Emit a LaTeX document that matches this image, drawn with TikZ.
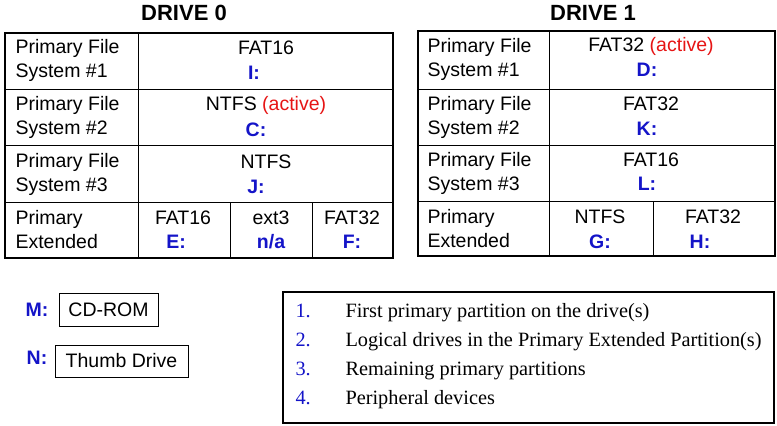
\documentclass[tikz,border=0pt]{standalone}
\usepackage{fontspec}
\setmainfont{Liberation Sans}
\newfontfamily\tms{Liberation Serif}
\definecolor{lblue}{RGB}{20,20,200}
\definecolor{lred}{RGB}{230,20,20}
\begin{document}
\begin{tikzpicture}[x=1pt,y=-1pt,
  thin line/.style={line width=0.8pt},
  thick box/.style={line width=2.2pt},
  cell/.style={font=\fontsize{19.5}{24}\selectfont, align=left, anchor=west},
  ctr/.style={font=\fontsize{19.5}{24}\selectfont, align=center},
  drv/.style={font=\fontsize{19.5}{24}\selectfont\bfseries\color{lblue}},
  ttl/.style={font=\fontsize{22}{26}\selectfont\bfseries},
  leg/.style={font=\tms\fontsize{20.3}{22}\selectfont, anchor=base west}]
\useasboundingbox (0,0) rectangle (777,426);
% Drive 0
\node[ttl] (t0) at (184,13) {DRIVE 0};
\draw[thin line] (138,33) -- (138,258) (5,89) -- (393,89) (5,145) -- (393,145) (5,202) -- (393,202)
  (230,202) -- (230,258) (312,202) -- (312,258);
\draw[thick box] (5,33) rectangle (393,258);
\node[cell] (a1) at (12,60) {Primary File\\System \#1};
\node[cell] (a2) at (12,117) {Primary File\\System \#2};
\node[cell] (a3) at (12,174) {Primary File\\System \#3};
\node[cell] (a4) at (12,230) {Primary\\Extended};
\node[ctr] (b1) at (266,48) {FAT16};
\node[drv] (b1d) at (254,73) {I:};
\node[ctr] (b2) at (266,105) {NTFS {\color{lred}(active)}};
\node[drv] (b2d) at (256,130) {C:};
\node[ctr] (b3) at (266,162) {NTFS};
\node[drv] (b3d) at (256,187) {J:};
\node[ctr] (c1) at (183,218) {FAT16};
\node[drv] (c1d) at (176,242) {E:};
\node[ctr] (c2) at (271,218) {ext3};
\node[drv] (c2d) at (271,242) {n/a};
\node[ctr] (c3) at (352,218) {FAT32};
\node[drv] (c3d) at (352,242) {F:};
% Drive 1
\node[ttl] (t1) at (593,13) {DRIVE 1};
\draw[thin line] (549,31) -- (549,256) (418,89) -- (775,89) (418,145) -- (775,145) (418,201) -- (775,201)
  (653,201) -- (653,256);
\draw[thick box] (418,31) rectangle (775,256);
\node[cell] (d1) at (424,59) {Primary File\\System \#1};
\node[cell] (d2) at (424,117) {Primary File\\System \#2};
\node[cell] (d3) at (424,173) {Primary File\\System \#3};
\node[cell] (d4) at (424,229) {Primary\\Extended};
\node[ctr] (e1) at (651,46) {FAT32 {\color{lred}(active)}};
\node[drv] (e1d) at (647,70) {D:};
\node[ctr] (e2) at (651,104) {FAT32};
\node[drv] (e2d) at (647,129) {K:};
\node[ctr] (e3) at (651,160) {FAT16};
\node[drv] (e3d) at (647,184) {L:};
\node[ctr] (f1) at (600,217) {NTFS};
\node[drv] (f1d) at (600,242) {G:};
\node[ctr] (f2) at (713,217) {FAT32};
\node[drv] (f2d) at (700,242) {H:};
% peripherals
\node[drv] (m) at (37,310) {M:};
\node[ctr, draw, line width=0.8pt, minimum width=99pt, minimum height=33pt] (cd) at (108.5,309.5) {CD-ROM};
\node[drv] (n) at (37,358) {N:};
\node[ctr, draw, line width=0.8pt, minimum width=133pt, minimum height=32pt] (td) at (121.5,361) {Thumb Drive};
% legend
\draw[thick box] (283,292) rectangle (774,423);
\foreach \i/\y/\t in {1/317/First primary partition on the drive(s),
  2/346/Logical drives in the Primary Extended Partition(s),
  3/375/Remaining primary partitions,
  4/404/Peripheral devices}{
  \node[leg, text=lblue] (n\i) at (292,\y) {\i.};
  \node[leg] (l\i) at (342,\y) {\t};
}
\end{tikzpicture}
\end{document}
